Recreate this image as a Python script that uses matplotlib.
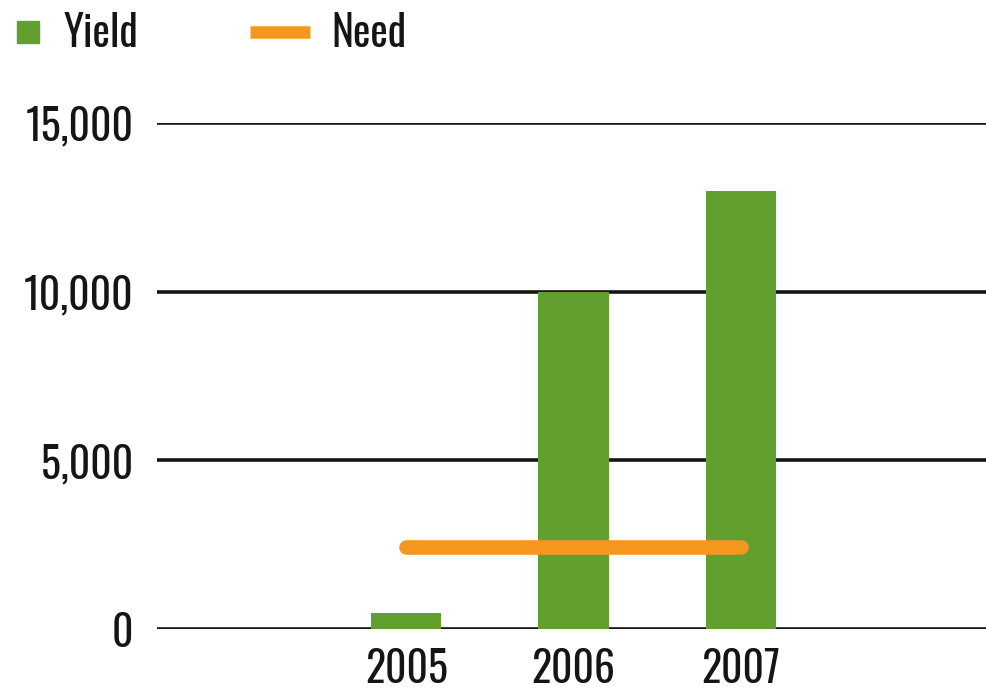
import matplotlib
matplotlib.use("Agg")
import matplotlib.pyplot as plt
from matplotlib import font_manager as fm
from matplotlib.lines import Line2D

installed = set(f.name for f in fm.fontManager.ttflist)
candidates = ['Oswald', 'Pathway Gothic One', 'Fjalla One', 'Roboto Condensed',
              'Archivo Narrow', 'PT Sans Narrow', 'Alumni Sans']
chosen = next((c for c in candidates if c in installed), 'DejaVu Sans')
plt.rcParams['font.family'] = [chosen, 'DejaVu Sans']

years = ['2005', '2006', '2007']
yield_vals = [480, 10000, 13000]
need_vals = [2430, 2430, 2430]
yticks = [0, 5000, 10000, 15000]
ytick_labels = ['0', '5,000', '10,000', '15,000']

green = '#61a02e'
orange = '#f5961f'
ink = '#151515'

fig = plt.figure(figsize=(9.87, 6.92), dpi=100)
ax = fig.add_axes([0.159, 0.091, 0.841, 0.731])

x = list(range(len(years)))
ax.set_axisbelow(True)
ax.bar(x, yield_vals, width=0.42, color=green, zorder=2)
ax.plot([x[0], x[-1]], [need_vals[0], need_vals[-1]], color=orange, lw=10.5,
        solid_capstyle='round', zorder=3)

ax.set_xlim(-1.49, 3.47)
ax.set_ylim(0, 15000)
ax.set_yticks(yticks)
ax.set_yticklabels(ytick_labels)
ax.set_xticks(x)
ax.set_xticklabels(years)
ax.yaxis.grid(True, color=ink, lw=2.6, zorder=1)
ax.tick_params(length=0, labelsize=30, colors=ink)
ax.tick_params(axis='y', pad=17)
ax.tick_params(axis='x', pad=14)
for s in ax.spines.values():
    s.set_visible(False)

# two single-entry legends so each key sits where the reference has it
leg1 = fig.legend([Line2D([], [], marker='s', color=green, ls='none', markersize=16)],
                  ['Yield'], loc='center left', bbox_to_anchor=(0.007, 0.952),
                  frameon=False, fontsize=30, handlelength=1.0, handletextpad=0.35,
                  borderpad=0, borderaxespad=0, labelcolor=ink)
leg2 = fig.legend([Line2D([], [], color=orange, lw=9, solid_capstyle='butt')],
                  ['Need'], loc='center left', bbox_to_anchor=(0.253, 0.952),
                  frameon=False, fontsize=30, handlelength=1.44, handletextpad=0.53,
                  borderpad=0, borderaxespad=0, labelcolor=ink)

fig.savefig('out.png', dpi=100)
